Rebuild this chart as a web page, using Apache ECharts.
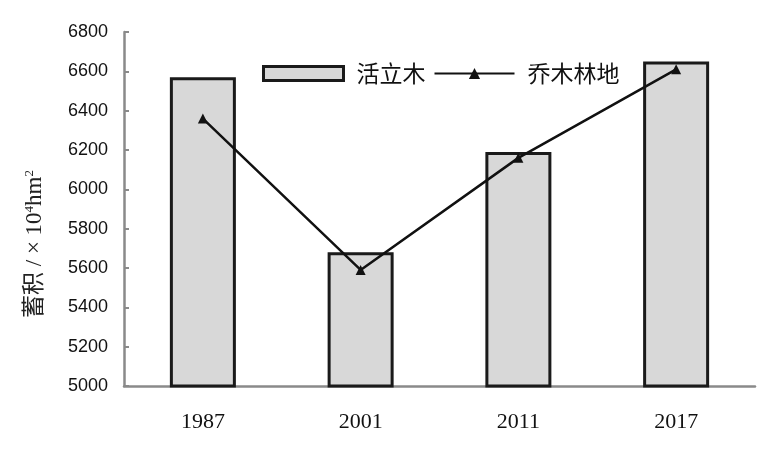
<!DOCTYPE html>
<html><head><meta charset="utf-8">
<script src="https://cdn.jsdelivr.net/npm/echarts@6/dist/echarts.min.js"></script>
<style>html,body{margin:0;padding:0;background:#fff}#c{width:759px;height:462px}</style>
</head><body><div id="c"></div>
<script>
const years = ['1987', '2001', '2011', '2017'];
const liveWood = [6570, 5680, 6190, 6650];
const arborForest = [6360, 5590, 6160, 6610];
const yMin = 5000, yMax = 6800, yStep = 200;

const chart = echarts.init(document.getElementById('c'));
chart.setOption({
  animation: false,
  grid: { left: 124, right: 4, top: 32, bottom: 76 },
  legend: {
    left: 257, top: 57,
    itemWidth: 80, itemHeight: 14, itemGap: 8,
    textStyle: { fontFamily: 'Noto Sans CJK SC', fontSize: 23, color: '#111', padding: [0, 0, 0, 8] },
    data: [
      { name: '活立木', icon: 'rect', itemStyle: { borderWidth: 3 } },
      { name: '乔木林地' }
    ]
  },
  xAxis: {
    type: 'category', data: years,
    axisLine: { lineStyle: { color: '#8a8a8a', width: 2.5 } },
    axisTick: { inside: true, length: 5, lineStyle: { color: '#8a8a8a', width: 2 } },
    axisLabel: { margin: 25, fontFamily: 'Liberation Serif', fontSize: 22, color: '#111' }
  },
  yAxis: {
    type: 'value', min: yMin, max: yMax, interval: yStep,
    name: '蓄积 / × 10{sup|4}hm{sup|2}',
    nameLocation: 'middle', nameGap: 78, nameRotate: 90,
    nameTextStyle: {
      fontFamily: 'Liberation Serif, Noto Sans CJK SC', fontSize: 23, color: '#222',
      padding: [0, 70, 0, 0],
      rich: { sup: { fontSize: 13, verticalAlign: 'top', padding: [0, 0, 10, 0], fontFamily: 'Liberation Serif' } }
    },
    axisLine: { show: true, lineStyle: { color: '#8a8a8a', width: 2.5 } },
    axisTick: { show: true, inside: true, length: 5, lineStyle: { color: '#8a8a8a', width: 2 } },
    splitLine: { show: false },
    axisLabel: { margin: 16, fontFamily: 'Liberation Sans', fontSize: 18, color: '#111', formatter: v => String(v) }
  },
  series: [
    {
      name: '活立木', type: 'bar', data: liveWood, barWidth: 66,
      itemStyle: { color: '#d8d8d8', borderColor: '#1a1a1a', borderWidth: 3 }
    },
    {
      name: '乔木林地', type: 'line', data: arborForest,
      symbol: 'triangle', symbolSize: 10,
      lineStyle: { color: '#111', width: 2.5 },
      itemStyle: { color: '#111' }
    }
  ]
});
</script></body></html>
